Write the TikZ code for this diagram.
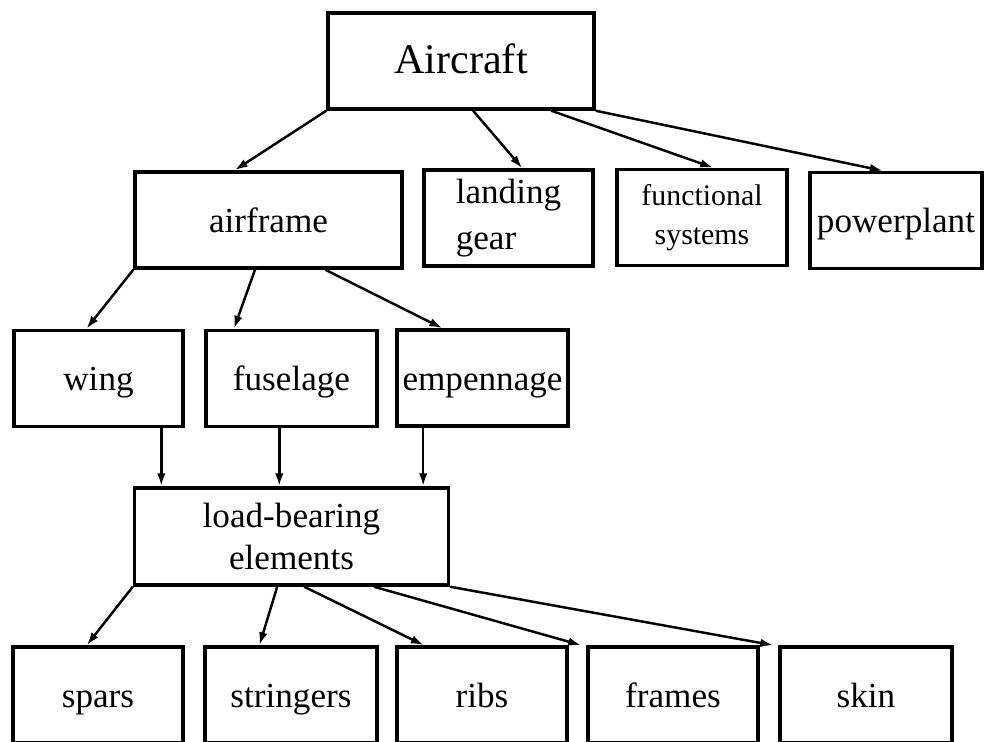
\documentclass[tikz,border=0pt]{standalone}
\usepackage{fontspec}
\setmainfont{Liberation Serif}
\usetikzlibrary{arrows.meta,calc,positioning}

\begin{document}
\begin{tikzpicture}[x=0.02cm,y=-0.02cm,>={Latex[length=2.6mm,width=1.7mm]},
	box/.style={draw,line width=2pt,inner sep=0pt,minimum height=1.92cm,font=\fontsize{20}{26}\selectfont},
	single/.style={text height=16pt,text depth=2pt},
	link/.style={->,line width=1.4pt}]

\useasboundingbox (0,0) rectangle (986,742);
\clip (0,0) rectangle (986,742);

% top level
\node[box,single,minimum width=5.32cm,font=\fontsize{24}{28}\selectfont] (aircraft) at (461,61) {Aircraft};
\node[box,single,minimum width=5.34cm] (airframe) at (268.5,220) {airframe};
\node[box,minimum width=3.38cm,align=left] (gear) at (508.5,218) {landing\\gear};
\node[box,minimum width=3.40cm,align=center,font=\fontsize{17}{22.5}\selectfont] (systems) at (702,217.5) {functional\\systems};
\node[box,single,minimum width=3.44cm] (power) at (896,220.5) {powerplant};

% airframe parts
\node[box,single,minimum width=3.38cm] (wing) at (98.5,378.5) {wing};
\node[box,single,minimum width=3.42cm] (fuselage) at (291.5,378.5) {fuselage};
\node[box,single,minimum width=3.42cm] (empennage) at (482.5,378) {empennage};
\node[box,minimum width=6.28cm,minimum height=1.94cm,align=center,font=\fontsize{20}{24}\selectfont] (elements) at (291.5,536.5) {load-bearing\\elements};

% members (cut at the bottom)
\node[box,single,minimum width=3.40cm] (spars) at (98,695) {spars};
\node[box,single,minimum width=3.44cm] (stringers) at (291,695) {stringers};
\node[box,single,minimum width=3.40cm] (ribs) at (482,695) {ribs};
\node[box,single,minimum width=3.40cm] (frames) at (673,695) {frames};
\node[box,single,minimum width=3.44cm] (skin) at (866,695) {skin};

\draw[link] (aircraft.south west) -- ($(airframe.north west)!.375!(airframe.north east)$);
\draw[link] ($(aircraft.south west)!.545!(aircraft.south east)$) -- ($(gear.north west)!.58!(gear.north east)$);
\draw[link] ($(aircraft.south west)!.835!(aircraft.south east)$) -- ($(systems.north west)!.565!(systems.north east)$);
\draw[link] (aircraft.south east) -- ($(power.north west)!.425!(power.north east)$);

\draw[link] (airframe.south west) -- ($(wing.north west)!.43!(wing.north east)$);
\draw[link] ($(airframe.south west)!.45!(airframe.south east)$) -- ($(fuselage.north west)!.17!(fuselage.north east)$);
\draw[link] ($(airframe.south west)!.71!(airframe.south east)$) -- ($(empennage.north west)!.27!(empennage.north east)$);

\draw[link] ($(wing.south west)!.864!(wing.south east)$) coordinate (w) -- (w |- elements.north);
\draw[link] ($(fuselage.south west)!.43!(fuselage.south east)$) coordinate (f) -- (f |- elements.north);
\draw[link] ($(empennage.south west)!.16!(empennage.south east)$) coordinate (e) -- (e |- elements.north);

\draw[link] (elements.south west) -- ($(spars.north west)!.435!(spars.north east)$);
\draw[link] ($(elements.south west)!.455!(elements.south east)$) -- ($(stringers.north west)!.32!(stringers.north east)$);
\draw[link] ($(elements.south west)!.54!(elements.south east)$) -- ($(ribs.north west)!.165!(ribs.north east)$);
\draw[link] ($(elements.south west)!.76!(elements.south east)$) -- ([xshift=-1mm]frames.north west);
\draw[link] (elements.south east) -- ([xshift=-1mm]skin.north west);

\end{tikzpicture}
\end{document}
